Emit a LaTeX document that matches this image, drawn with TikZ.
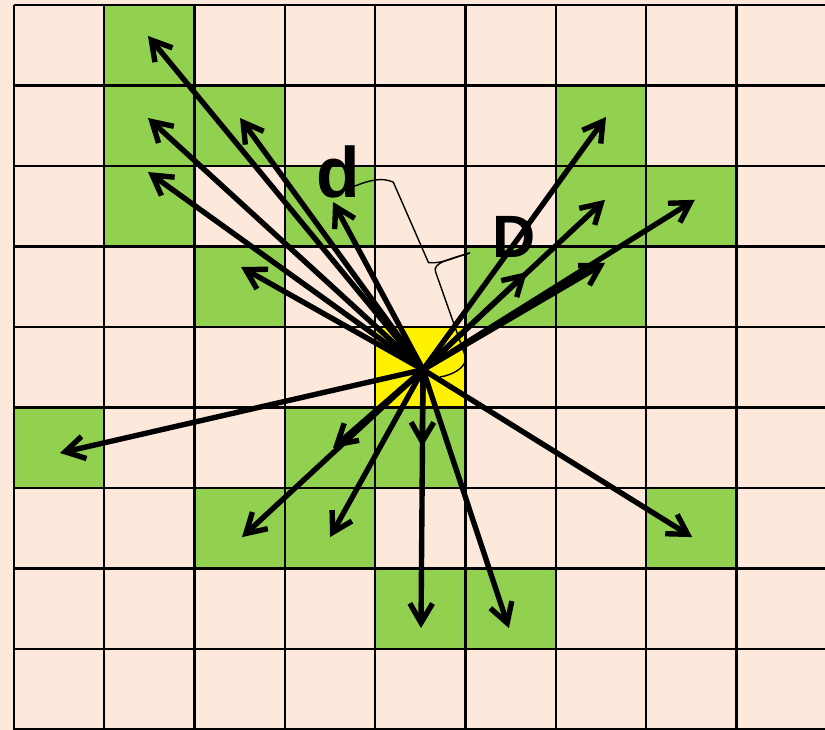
\documentclass[tikz,border=0pt]{standalone}
\usepackage{fontspec}
\setmainfont{Liberation Sans}
\usetikzlibrary{arrows.meta}
\definecolor{peach}{HTML}{FDE9DB}
\definecolor{cellgreen}{HTML}{92D050}
\tikzset{
  cell/.style={fill=cellgreen},
  gridline/.style={line width=2pt},
  ray/.style={line width=4.6pt, line cap=round, line join=round, -{Straight Barb[length=5.8mm,width=6.8mm]}},
  brace/.style={line width=1.2pt},
  lbl/.style={inner sep=0pt, font=\bfseries\fontsize{61}{61}\selectfont}
}
\begin{document}
\begin{tikzpicture}[x=2.709cm, y=2.415cm]
\useasboundingbox (-0.155,0.062) rectangle (8.981,-9.006);
\fill[peach] (-0.155,0.062) rectangle (8.981,-9.006);
% green cells
\foreach \c/\r in {1/0,1/1,2/1,1/2,3/2,6/1,6/2,7/2,2/3,5/3,6/3,0/5,3/5,4/5,2/6,3/6,7/6,4/7,5/7}
  \fill[cell] (\c,-\r) rectangle ++(1,-1);
\fill[yellow] (4,-4) rectangle ++(1,-1);
% grid
\foreach \i in {0,...,9} {
  \draw[gridline] (\i,0) -- (\i,-9);
  \draw[gridline] (0,-\i) -- (9,-\i);
}
% labels
\node[lbl] (dlab) at (3.588,-2.075) {d};
\node[lbl, font=\bfseries\fontsize{51}{51}\selectfont] (Dlab) at (5.534,-2.876) {D};
% braces
\draw[brace] (3.75,-2.26) .. controls (3.95,-2.17) and (4.07,-2.14) .. (4.2,-2.2) -- (4.59,-3.2)
  .. controls (4.75,-3.22) and (4.9,-3.12) .. (5.05,-3.08);
\draw[brace] (5.05,-3.08) .. controls (4.85,-3.15) and (4.62,-3.2) .. (4.67,-3.32) -- (5.0,-4.37)
  .. controls (5.02,-4.5) and (4.85,-4.6) .. (4.72,-4.62);
% rays
\coordinate (ctr) at (4.53,-4.53);
\foreach \x/\y [count=\i] in {1.484/-0.385, 1.484/-1.404, 1.484/-2.075, 2.503/-1.404, 3.533/-2.447,
    2.514/-3.255, 6.556/-1.391, 6.545/-2.42, 7.54/-2.42, 5.68/-3.317, 6.545/-3.205,
    0.509/-5.565, 3.533/-5.503, 2.525/-6.61, 3.5/-6.61, 4.52/-5.49, 4.507/-7.74,
    5.48/-7.74, 7.51/-6.61} {
  \coordinate (t\i) at (\x,\y);
  \draw[ray] (ctr) -- (t\i);
}
\end{tikzpicture}
\end{document}
